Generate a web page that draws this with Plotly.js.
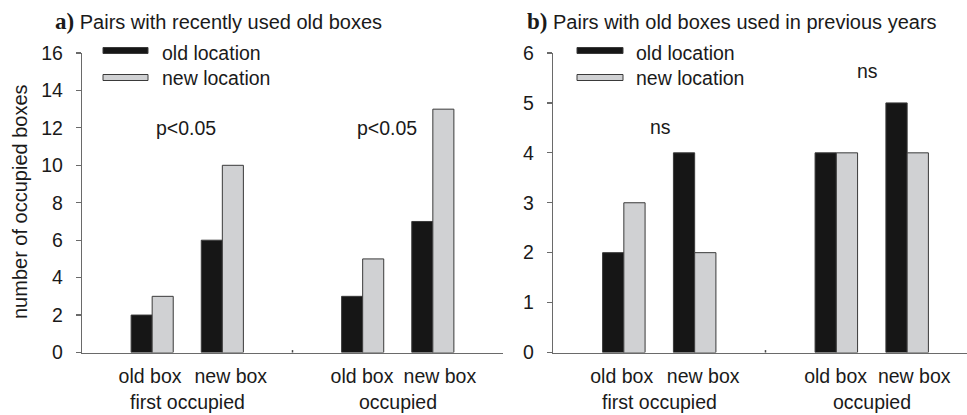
<!DOCTYPE html>
<html>
<head>
<meta charset="utf-8">
<script src="https://cdn.plot.ly/plotly-3.0.1.min.js"></script>
<style>html,body{margin:0;padding:0;background:#fff}#chart{width:967px;height:415px}</style>
</head>
<body>
<div id="chart"></div>
<script>
// ---- data ----
const xPositions = [1, 2, 4, 5];
const tickLabels = ["old box", "new box", "old box", "new box"];
const groupLabels = ["first occupied", "occupied"];
const groupCenters = [1.5, 4.5];
const seriesNames = ["old location", "new location"];
const panelA_old = [2, 6, 3, 7];
const panelA_new = [3, 10, 5, 13];
const panelB_old = [2, 4, 4, 5];
const panelB_new = [3, 2, 4, 4];
const panelTitles = [["a)", "Pairs with recently used old boxes"], ["b)", "Pairs with old boxes used in previous years"]];
const panelA_sig = [{x: 1.48, y: 12, t: "p<0.05"}, {x: 4.34, y: 12, t: "p<0.05"}];
const panelB_sig = [{x: 1.52, y: 4.52, t: "ns"}, {x: 4.44, y: 5.64, t: "ns"}];
const yTitle = "number of occupied boxes";

// ---- style ----
const BLACK = "#161616", GRAY = "#d0d1d3", EDGE = "#3a3a3a", AXIS = "#6a6a6a", TXT = "#1a1a1a";
const FONT = "Liberation Sans, Arial, sans-serif";
const FS = 19.5;
const W = 967, H = 415;
const px = v => v / W, py = v => 1 - v / H;
const labelNudge = [-0.03, 0.12, -0.01, 0.1]; // label placement tweak (layout only)

function bar(x, y, color, xa, ya, name, off) {
  return {type: "bar", x: x, y: y, name: name, xaxis: xa, yaxis: ya, width: 0.3, offset: off,
    marker: {color: color, line: {color: EDGE, width: 1}},
    showlegend: false, hoverinfo: "x+y"};
}

const data = [
  bar(xPositions, panelA_old, BLACK, "x", "y", seriesNames[0], -0.3),
  bar(xPositions, panelA_new, GRAY, "x", "y", seriesNames[1], 0),
  bar(xPositions, panelB_old, BLACK, "x2", "y2", seriesNames[0], -0.3),
  bar(xPositions, panelB_new, GRAY, "x2", "y2", seriesNames[1], 0)
];

function xaxis(domain, range, anchor) {
  return {domain: domain, range: range, anchor: anchor, tickmode: "array",
    tickvals: xPositions.map((v, i) => v + labelNudge[i]),
    ticktext: tickLabels, ticks: "", showline: true, linecolor: AXIS, linewidth: 1.2,
    showgrid: false, zeroline: false, tickfont: {family: FONT, size: FS, color: TXT},
    ticklabelstandoff: 6, fixedrange: true};
}
function yaxis(domain, range, dtick, anchor) {
  return {domain: domain, range: range, anchor: anchor, dtick: dtick, tick0: 0, ticks: "outside",
    ticklen: 5, tickcolor: AXIS, tickwidth: 1.2, showline: true, linecolor: AXIS, linewidth: 1.2,
    showgrid: false, zeroline: false, tickfont: {family: FONT, size: FS, color: TXT},
    ticklabelstandoff: 9, fixedrange: true};
}

const yDom = [py(352.5), py(53)];
const layout = {
  width: W, height: H, margin: {l: 0, r: 0, t: 0, b: 0},
  paper_bgcolor: "#fff", plot_bgcolor: "#fff", barmode: "overlay",
  showlegend: false,
  xaxis: xaxis([px(82), px(503)], [0, 6], "y"),
  yaxis: yaxis(yDom, [0, 16], 2, "x"),
  xaxis2: xaxis([px(553), 1], [0, 5.845], "y2"),
  yaxis2: yaxis(yDom, [0, 6], 1, "x2"),
  shapes: [], annotations: []
};

// divider ticks between groups
[["x", "y"], ["x2", "y2"]].forEach(([xa, ya]) => {
  layout.shapes.push({type: "line", xref: xa, yref: ya + " domain", x0: 3, x1: 3, y0: 0, y1: 0.008,
    line: {color: "#444", width: 1.5}});
});

// group labels
["x", "x2"].forEach(xa => {
  groupLabels.forEach((g, i) => {
    layout.annotations.push({xref: xa, yref: "paper", x: groupCenters[i], y: py(402), text: g,
      showarrow: false, yanchor: "middle", xanchor: "center", font: {family: FONT, size: FS, color: TXT}});
  });
});

// significance labels
panelA_sig.forEach(s => layout.annotations.push({xref: "x", yref: "y", x: s.x, y: s.y, text: s.t,
  showarrow: false, font: {family: FONT, size: FS, color: TXT}}));
panelB_sig.forEach(s => layout.annotations.push({xref: "x2", yref: "y2", x: s.x, y: s.y, text: s.t,
  showarrow: false, font: {family: FONT, size: FS, color: TXT}}));

// panel titles
[[53, 0], [525, 1]].forEach(([x0, i]) => {
  layout.annotations.push({xref: "paper", yref: "paper", x: px(x0), y: py(21), xanchor: "left", yanchor: "middle",
    showarrow: false, font: {family: FONT, size: 20, color: TXT},
    text: '<span style="font-family:Liberation Serif, Times New Roman, serif;font-size:23px;font-weight:bold">' +
      panelTitles[i][0] + '</span> ' + panelTitles[i][1]});
});

// y title
layout.annotations.push({xref: "paper", yref: "paper", x: px(20), y: py(202), text: yTitle, textangle: -90,
  showarrow: false, xanchor: "center", yanchor: "middle", font: {family: FONT, size: 20, color: TXT}});

// custom legends
[[103, 148, 160], [577, 623, 634]].forEach(([s0, s1, tx]) => {
  [[BLACK, 47.5, 53.5, 52.5], [GRAY, 74.5, 80.5, 78]].forEach(([c, y0, y1, ty], k) => {
    layout.shapes.push({type: "rect", xref: "paper", yref: "paper", x0: px(s0), x1: px(s1), y0: py(y1), y1: py(y0),
      fillcolor: c, line: {color: EDGE, width: 1}});
    layout.annotations.push({xref: "paper", yref: "paper", x: px(tx), y: py(ty), xanchor: "left", yanchor: "middle",
      text: seriesNames[k], showarrow: false, font: {family: FONT, size: FS, color: TXT}});
  });
});

Plotly.newPlot("chart", data, layout, {displayModeBar: false, staticPlot: true});
</script>
</body>
</html>
